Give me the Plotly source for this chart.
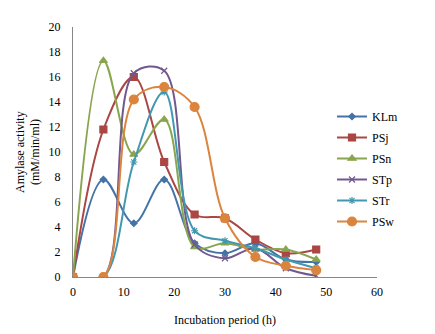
import plotly.graph_objects as go

hours = [0, 6, 12, 18, 24, 30, 36, 42, 48]
KLm = [0, 7.8, 4.3, 7.8, 2.7, 1.9, 2.7, 1.4, 1.2]
PSj = [0, 11.8, 16.0, 9.2, 5.0, 4.7, 3.0, 1.9, 2.2]
PSn = [0, 17.3, 9.8, 12.6, 2.4, 2.7, 2.2, 2.2, 1.4]
STp = [0, 0, 16.3, 16.5, 2.6, 1.5, 2.3, 0.7, 0.1]
STr = [0, 0, 9.2, 14.8, 3.7, 2.9, 2.3, 1.4, 0.7]
PSw = [0, 0, 14.2, 15.2, 13.6, 4.7, 1.6, 0.9, 0.55]

series = [
    ("KLm", KLm, "#4572A7", "diamond", 5),
    ("PSj", PSj, "#AA4643", "square", 7),
    ("PSn", PSn, "#89A54E", "triangle-up", 7),
    ("STp", STp, "#71588F", "x-thin-open", 6),
    ("STr", STr, "#4198AF", "asterisk-open", 6),
    ("PSw", PSw, "#DB843D", "circle", 9),
]

fig = go.Figure()
for name, vals, color, sym, size in series:
    fig.add_trace(go.Scatter(
        x=hours, y=vals, name=name, legendgroup=name, mode="lines+markers",
        line=dict(color=color, width=2, shape="spline", smoothing=1.0),
        marker=dict(symbol=sym, size=size, color=color,
                    line=dict(color=color, width=1.2)),
    ))

font = dict(family="Liberation Serif, Times New Roman, serif", size=12, color="#000000")
fig.update_layout(
    width=435, height=334,
    margin=dict(l=65, r=66, t=19, b=65),
    paper_bgcolor="white", plot_bgcolor="white",
    font=font,
    showlegend=True,
    legend=dict(x=0.852, y=0.70, xanchor="left", yanchor="top",
                bgcolor="rgba(0,0,0,0)", font=dict(size=12),
                tracegroupgap=2),
    xaxis=dict(range=[0, 60], tickvals=[0, 10, 20, 30, 40, 50, 60],
               showgrid=False, zeroline=False, showline=True, automargin=False,
               linecolor="#868686", linewidth=1, ticks="", ticklabelstandoff=4),
    yaxis=dict(range=[0, 20], tickvals=list(range(0, 21, 2)),
               showgrid=False, zeroline=False, showline=True, automargin=False,
               linecolor="#868686", linewidth=1, ticks="", ticklabelstandoff=9),
    annotations=[
        dict(text="Incubation period (h)", xref="paper", yref="paper", x=0.5, y=0,
             xanchor="center", yanchor="middle", yshift=-43, showarrow=False),
        dict(text="Amylase activity", xref="paper", yref="paper", x=0, y=0.5,
             xanchor="center", yanchor="middle", xshift=-53, textangle=-90, showarrow=False),
        dict(text="(mM/min/ml)", xref="paper", yref="paper", x=0, y=0.5,
             xanchor="center", yanchor="middle", xshift=-38, textangle=-90, showarrow=False),
    ],
)
fig.write_html("out.html")
